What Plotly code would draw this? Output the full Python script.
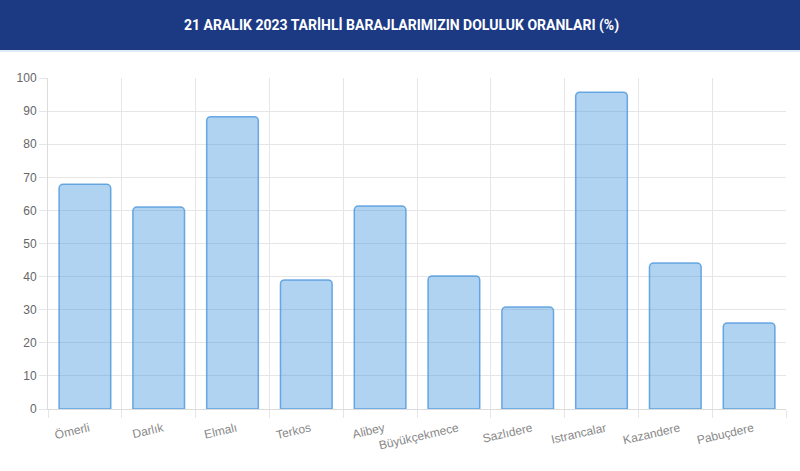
import plotly.graph_objects as go

categories = ["Ömerli", "Darlık", "Elmalı", "Terkos", "Alibey", "Büyükçekmece",
              "Sazlıdere", "Istrancalar", "Kazandere", "Pabuçdere"]
values = [67.9, 61.0, 88.3, 39.0, 61.3, 40.2, 30.8, 95.7, 44.1, 26.0]
y_ticks = [0, 10, 20, 30, 40, 50, 60, 70, 80, 90, 100]
title_text = "21 ARALIK 2023 TARİHLİ BARAJLARIMIZIN DOLULUK ORANLARI (%)"

W, H = 800, 471
L, R, T, B = 48, 14, 78, 62
PW, PH = W - L - R, H - T - B

fig = go.Figure(go.Bar(
    x=categories, y=values,
    width=0.7,
    marker=dict(color="rgba(54,145,220,0.4)",
                line=dict(color="rgba(74,150,220,0.8)", width=1.5),
                cornerradius=4),
    hoverinfo="x+y",
))

# header band
fig.add_shape(type="rect", xref="paper", yref="paper",
              x0=-L / PW, x1=1 + R / PW, y0=(H - 50 - B) / PH, y1=(H - B) / PH,
              layer="above", line_width=0, fillcolor="#1c3a84")
fig.add_shape(type="line", xref="paper", yref="paper",
              x0=-L / PW, x1=1 + R / PW, y0=(H - 51 - B) / PH, y1=(H - 51 - B) / PH,
              layer="above", line=dict(color="#d6e4f2", width=1.5))

fig.update_layout(
    width=W, height=H,
    margin=dict(l=L, r=R, t=T, b=B),
    paper_bgcolor="white", plot_bgcolor="white",
    showlegend=False,
    title=dict(text="<b>" + title_text + "</b>", x=0.502, xref="container", xanchor="center",
               y=1 - 25 / H, yref="container", yanchor="middle",
               font=dict(family="Roboto", size=14, color="white")),
    font=dict(family="Liberation Sans, Arial", size=12, color="#666"),
)

fig.update_xaxes(
    type="category", tickson="boundaries", ticks="outside", ticklen=8,
    tickcolor="#e6e6e6", showgrid=True, gridcolor="#e6e6e6", gridwidth=1,
    tickangle=-13, tickfont=dict(size=12, color="#888"),
    ticklabelstandoff=7, ticklabelshift=4,
    showline=True, linecolor="#dcdcdc", linewidth=1,
    range=[-0.5, 9.5],
)
fig.update_yaxes(
    range=[0, 100], tickvals=y_ticks, ticks="outside", ticklen=8,
    tickcolor="#e6e6e6", showgrid=True, gridcolor="#e6e6e6", gridwidth=1,
    zeroline=False, showline=True, linecolor="#dcdcdc", linewidth=1,
    tickfont=dict(size=12, color="#666"),
)

fig.write_html("out.html", config={"displayModeBar": False},
               post_script="document.body.style.margin='0';")
